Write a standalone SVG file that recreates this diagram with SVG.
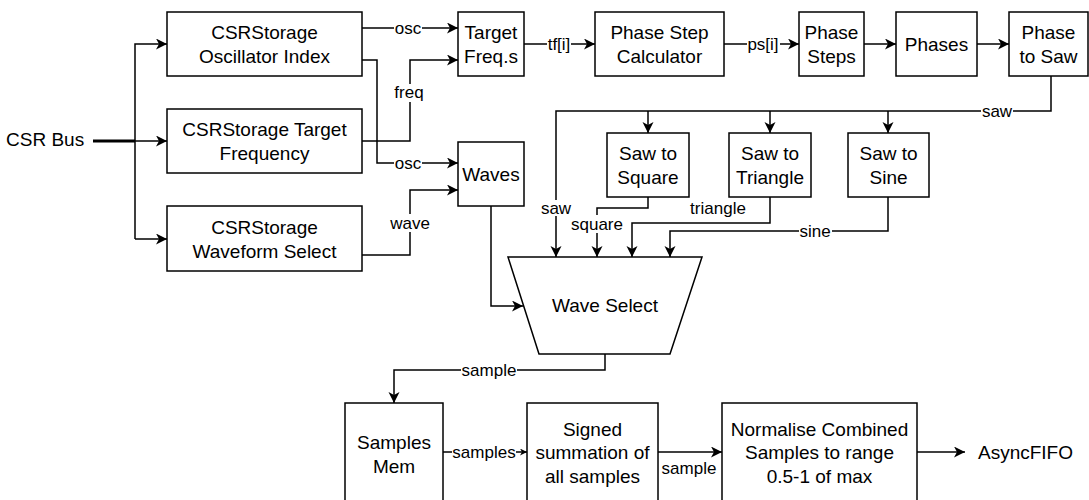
<svg xmlns="http://www.w3.org/2000/svg" width="1089" height="500" viewBox="0 0 1089 500">
  <style>
    .box { fill: #ffffff; stroke: #000000; stroke-width: 1.5; }
    .t { font-family: "Liberation Sans", Arial, Helvetica, sans-serif; font-size: 19px; text-anchor: middle; fill: #000000; }
    .lbl { font-family: "Liberation Sans", Arial, Helvetica, sans-serif; font-size: 17px; text-anchor: middle; fill: #000000; }
    .edge { fill: none; stroke: #000000; stroke-width: 1.5; }
    .bg { fill: #ffffff; stroke: none; }
  </style>
  <defs>
    <marker id="arr" markerUnits="userSpaceOnUse" markerWidth="13" markerHeight="13" refX="11" refY="5.5" orient="auto">
      <path d="M0,0 L11,5.5 L0,11 L3,5.5 Z" fill="#000000"/>
    </marker>
    <marker id="arrSmall" markerUnits="userSpaceOnUse" markerWidth="8" markerHeight="8" refX="7" refY="3.5" orient="auto">
      <path d="M0,0 L7,3.5 L0,7 L2,3.5 Z" fill="#000000"/>
    </marker>
  </defs>
  <rect x="0" y="0" width="1089" height="500" fill="#ffffff"/>

  <g id="connectors">
    <!-- CSR Bus -->
    <line x1="93" y1="141" x2="135" y2="141" stroke="#000" stroke-width="3"/>
    <path class="edge" d="M135,141 L167,141" marker-end="url(#arr)"/>
    <path class="edge" d="M135,239 L135,44 L167,44" marker-end="url(#arr)"/>
    <path class="edge" d="M135,239 L167,239" marker-end="url(#arr)"/>
    <!-- osc to target freqs -->
    <path class="edge" d="M362,28 L458,28" marker-end="url(#arr)"/>
    <!-- osc to waves -->
    <path class="edge" d="M362,60 L377,60 L377,163 L458,163" marker-end="url(#arr)"/>
    <!-- freq -->
    <path class="edge" d="M362,141 L410,141 L410,60 L458,60" marker-end="url(#arr)"/>
    <!-- wave -->
    <path class="edge" d="M362,255 L410,255 L410,190 L458,190" marker-end="url(#arr)"/>
    <!-- tf[i] -->
    <path class="edge" d="M524,44 L595,44" marker-end="url(#arr)"/>
    <!-- ps[i] -->
    <path class="edge" d="M724,44 L799,44" marker-end="url(#arr)"/>
    <path class="edge" d="M864,44 L896,44" marker-end="url(#arr)"/>
    <path class="edge" d="M977,44 L1009,44" marker-end="url(#arr)"/>
    <!-- saw -->
    <path class="edge" d="M1051,76 L1051,111 L556,111 L556,257" marker-end="url(#arr)"/>
    <path class="edge" d="M648,111 L648,133" marker-end="url(#arr)"/>
    <path class="edge" d="M770,111 L770,133" marker-end="url(#arr)"/>
    <path class="edge" d="M888,111 L888,133" marker-end="url(#arr)"/>
    <!-- square -->
    <path class="edge" d="M648,197 L648,208 L597,208 L597,257" marker-end="url(#arr)"/>
    <!-- triangle -->
    <path class="edge" d="M770,197 L770,223 L632,223 L632,257" marker-end="url(#arr)"/>
    <!-- sine -->
    <path class="edge" d="M888,197 L888,231 L670,231 L670,257" marker-end="url(#arr)"/>
    <!-- waves to wave select -->
    <path class="edge" d="M491,206 L491,306 L523,306" marker-end="url(#arr)"/>
    <!-- sample -->
    <path class="edge" d="M605,354 L605,370 L394,370 L394,403" marker-end="url(#arr)"/>
    <!-- samples -->
    <path class="edge" d="M443,452 L527,452" marker-end="url(#arrSmall)"/>
    <!-- sample to normalise -->
    <path class="edge" d="M658,452 L722,452" marker-end="url(#arr)"/>
    <!-- to AsyncFIFO -->
    <path class="edge" d="M917,452 L965,452" marker-end="url(#arr)"/>

    <!-- labels -->
    <rect class="bg" x="394" y="20" width="28" height="16"/>
    <text class="lbl" x="408" y="34">osc</text>
    <rect class="bg" x="394" y="155" width="28" height="16"/>
    <text class="lbl" x="408" y="169">osc</text>
    <rect class="bg" x="394" y="84" width="31" height="18"/>
    <text class="lbl" x="409" y="98">freq</text>
    <rect class="bg" x="390" y="214" width="41" height="18"/>
    <text class="lbl" x="410" y="229">wave</text>
    <rect class="bg" x="547" y="35" width="24" height="18"/>
    <text class="lbl" x="559" y="50">tf[i]</text>
    <rect class="bg" x="747" y="35" width="33" height="18"/>
    <text class="lbl" x="763" y="50">ps[i]</text>
    <rect class="bg" x="981" y="103" width="32" height="16"/>
    <text class="lbl" x="997" y="117">saw</text>
    <rect class="bg" x="540" y="200" width="32" height="16"/>
    <text class="lbl" x="556" y="214">saw</text>
    <rect class="bg" x="570" y="215" width="54" height="18"/>
    <text class="lbl" x="597" y="230">square</text>
    <rect class="bg" x="689" y="199" width="58" height="18"/>
    <text class="lbl" x="718" y="214">triangle</text>
    <rect class="bg" x="799" y="223" width="33" height="16"/>
    <text class="lbl" x="815" y="237">sine</text>
    <rect class="bg" x="461" y="362" width="56" height="17"/>
    <text class="lbl" x="489" y="376">sample</text>
    <rect class="bg" x="452" y="444" width="64" height="17"/>
    <text class="lbl" x="484" y="458">samples</text>
    <text class="lbl" x="689" y="474">sample</text>
  </g>

  <g id="csr-bus">
    <text class="t" x="6" y="145.5" style="text-anchor:start">CSR Bus</text>
  </g>

  <g id="csr-osc-index">
    <rect class="box" x="167" y="12" width="195" height="64"/>
    <text class="t" x="264.5" y="39">CSRStorage</text>
    <text class="t" x="264.5" y="63">Oscillator Index</text>
  </g>
  <g id="csr-target-freq">
    <rect class="box" x="167" y="109" width="195" height="64"/>
    <text class="t" x="264.5" y="136">CSRStorage Target</text>
    <text class="t" x="264.5" y="160">Frequency</text>
  </g>
  <g id="csr-waveform">
    <rect class="box" x="167" y="206" width="195" height="65"/>
    <text class="t" x="264.5" y="233.5">CSRStorage</text>
    <text class="t" x="264.5" y="257.5">Waveform Select</text>
  </g>

  <g id="target-freqs">
    <rect class="box" x="458" y="12" width="66" height="64"/>
    <text class="t" x="491" y="39">Target</text>
    <text class="t" x="491" y="63">Freq.s</text>
  </g>
  <g id="waves">
    <rect class="box" x="458" y="142" width="66" height="64"/>
    <text class="t" x="491" y="181">Waves</text>
  </g>

  <g id="phase-step-calc">
    <rect class="box" x="595" y="12" width="129" height="64"/>
    <text class="t" x="659.5" y="39">Phase Step</text>
    <text class="t" x="659.5" y="63">Calculator</text>
  </g>
  <g id="phase-steps">
    <rect class="box" x="799" y="12" width="65" height="64"/>
    <text class="t" x="831.5" y="39">Phase</text>
    <text class="t" x="831.5" y="63">Steps</text>
  </g>
  <g id="phases">
    <rect class="box" x="896" y="12" width="81" height="64"/>
    <text class="t" x="936.5" y="51">Phases</text>
  </g>
  <g id="phase-to-saw">
    <rect class="box" x="1009" y="12" width="79" height="64"/>
    <text class="t" x="1048.5" y="39">Phase</text>
    <text class="t" x="1048.5" y="63">to Saw</text>
  </g>

  <g id="saw-to-square">
    <rect class="box" x="607" y="133" width="82" height="64"/>
    <text class="t" x="648" y="160">Saw to</text>
    <text class="t" x="648" y="184">Square</text>
  </g>
  <g id="saw-to-triangle">
    <rect class="box" x="729" y="133" width="82" height="64"/>
    <text class="t" x="770" y="160">Saw to</text>
    <text class="t" x="770" y="184">Triangle</text>
  </g>
  <g id="saw-to-sine">
    <rect class="box" x="848" y="133" width="81" height="64"/>
    <text class="t" x="888.5" y="160">Saw to</text>
    <text class="t" x="888.5" y="184">Sine</text>
  </g>

  <g id="wave-select">
    <polygon class="box" points="508,257 702,257 670,354 539,354"/>
    <text class="t" x="605" y="312">Wave Select</text>
  </g>

  <g id="samples-mem">
    <rect class="box" x="345" y="403" width="98" height="99"/>
    <text class="t" x="394" y="448.5">Samples</text>
    <text class="t" x="394" y="472.5">Mem</text>
  </g>
  <g id="signed-summation">
    <rect class="box" x="527" y="403" width="131" height="99"/>
    <text class="t" x="592.5" y="435.5">Signed</text>
    <text class="t" x="592.5" y="459">summation of</text>
    <text class="t" x="592.5" y="482.5">all samples</text>
  </g>
  <g id="normalise">
    <rect class="box" x="722" y="403" width="195" height="99"/>
    <text class="t" x="819.5" y="435.5">Normalise Combined</text>
    <text class="t" x="819.5" y="459">Samples to range</text>
    <text class="t" x="819.5" y="482.5">0.5-1 of max</text>
  </g>
  <g id="asyncfifo">
    <text class="t" x="978" y="459" style="text-anchor:start">AsyncFIFO</text>
  </g>
</svg>
